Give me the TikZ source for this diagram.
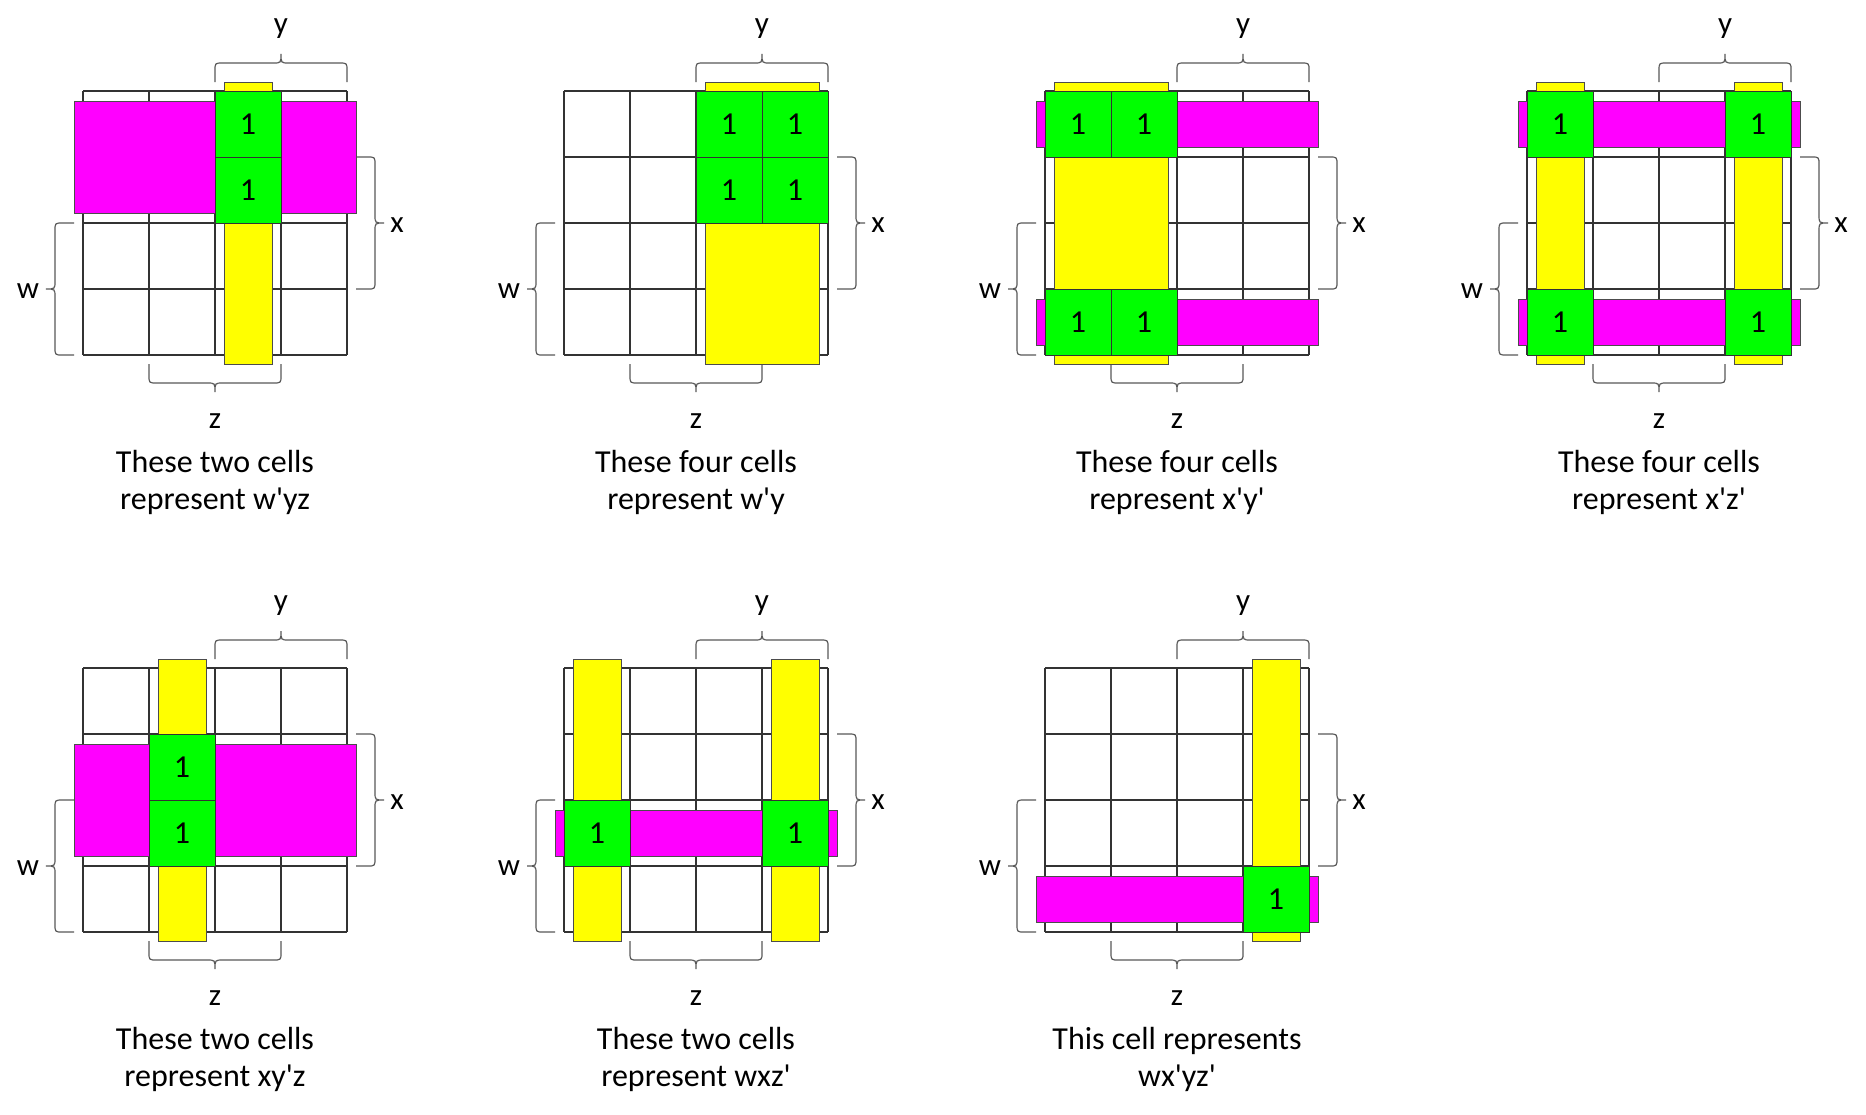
\documentclass[tikz,border=0pt]{standalone}
\usepackage{fontspec}
\setmainfont{Carlito}
\usepackage{tikz}
\definecolor{kyellow}{RGB}{255,255,0}
\definecolor{kmagenta}{RGB}{255,0,255}
\definecolor{kgreen}{RGB}{0,255,0}

\newcommand\pr{\textquotesingle}
\newcommand\hbr[5]{\draw[brc] (#1,#3) -- (#1,{#4+0.4*(#3-#4)}) .. controls (#1,#4) .. ({#1+8},#4) -- ({(#1+#2)/2-8},#4) .. controls ({(#1+#2)/2},#4) .. ({(#1+#2)/2},#5) .. controls ({(#1+#2)/2},#4) .. ({(#1+#2)/2+8},#4) -- ({#2-8},#4) .. controls (#2,#4) .. (#2,{#4+0.4*(#3-#4)}) -- (#2,#3);}
\newcommand\vbr[5]{\draw[brc] (#3,#1) -- ({#4+0.4*(#3-#4)},#1) .. controls (#4,#1) .. (#4,{#1+8}) -- (#4,{(#1+#2)/2-8}) .. controls (#4,{(#1+#2)/2}) .. (#5,{(#1+#2)/2}) .. controls (#4,{(#1+#2)/2}) .. (#4,{(#1+#2)/2+8}) -- (#4,{#2-8}) .. controls (#4,#2) .. ({#4+0.4*(#3-#4)},#2) -- (#3,#2);}
\newcommand\ycol[2]{\filldraw[ybar] ({66*#1-57},-9) rectangle ({66*#2-9},273);}
\newcommand\mrow[2]{\filldraw[mbar] (-9,{66*#1-56}) rectangle (273,{66*#2-10});}
\newcommand\one[3]{\node[onecell] (#1) at ({66*#3-33},{66*#2-33}) {1};}

\tikzset{
  pics/kmap/.style 2 args={code={
    \foreach \i in {0,66,...,264}{
      \draw[gridline] (\i,0) -- (\i,264);
      \draw[gridline] (0,\i) -- (264,\i);
    }
    \hbr{132}{264}{-9}{-28}{-37}
    \hbr{66}{198}{273}{292}{301}
    \vbr{66}{198}{273}{292}{301}
    \vbr{132}{264}{-9}{-28}{-37}
    \node[lbl] (-y) at (198,-58) {y};
    \node[lbl] (-x) at (314,141) {x};
    \node[lbl] (-w) at (-55,207) {w};
    \node[lbl] (-z) at (132,337) {z};
    \node[capline] (-c1) at (132,381) {#1};
    \node[capline] (-c2) at (132,418) {#2};
  }}
}

\begin{document}
\begin{tikzpicture}[x=0.5pt, y=-0.5pt,
  gridline/.style={draw=black!80, line width=0.6pt},
  brc/.style={draw=black!65, line width=0.6pt},
  ybar/.style={fill=kyellow, draw=black!70, line width=0.5pt},
  mbar/.style={fill=kmagenta, draw=black!70, line width=0.5pt},
  onecell/.style={draw=black!80, fill=kgreen, line width=0.5pt,
                  minimum size=33pt, inner sep=0pt, font=\fontsize{16}{19}\selectfont},
  lbl/.style={anchor=base, inner sep=0pt, font=\fontsize{15.5}{19}\selectfont},
  capline/.style={anchor=base, inner sep=0pt, font=\fontsize{16}{19}\selectfont}
]
\fill[white] (0,0) rectangle (1866,1114);
\useasboundingbox (0,0) rectangle (1866,1114);

\begin{scope}[shift={(83,91)}]
  \pic (p1) {kmap={These two cells}{represent w\pr yz}};
  \ycol{3}{3} \mrow{1}{2}
  \one{p1a}{1}{3} \one{p1b}{2}{3}
\end{scope}

\begin{scope}[shift={(564,91)}]
  \pic (p2) {kmap={These four cells}{represent w\pr y}};
  \ycol{3}{4}
  \one{p2a}{1}{3} \one{p2b}{1}{4} \one{p2c}{2}{3} \one{p2d}{2}{4}
\end{scope}

\begin{scope}[shift={(1045,91)}]
  \pic (p3) {kmap={These four cells}{represent x\pr y\pr}};
  \ycol{1}{2} \mrow{1}{1} \mrow{4}{4}
  \one{p3a}{1}{1} \one{p3b}{1}{2} \one{p3c}{4}{1} \one{p3d}{4}{2}
\end{scope}

\begin{scope}[shift={(1527,91)}]
  \pic (p4) {kmap={These four cells}{represent x\pr z\pr}};
  \ycol{1}{1} \ycol{4}{4} \mrow{1}{1} \mrow{4}{4}
  \one{p4a}{1}{1} \one{p4b}{1}{4} \one{p4c}{4}{1} \one{p4d}{4}{4}
\end{scope}

\begin{scope}[shift={(83,668)}]
  \pic (p5) {kmap={These two cells}{represent xy\pr z}};
  \ycol{2}{2} \mrow{2}{3}
  \one{p5a}{2}{2} \one{p5b}{3}{2}
\end{scope}

\begin{scope}[shift={(564,668)}]
  \pic (p6) {kmap={These two cells}{represent wxz\pr}};
  \ycol{1}{1} \ycol{4}{4} \mrow{3}{3}
  \one{p6a}{3}{1} \one{p6b}{3}{4}
\end{scope}

\begin{scope}[shift={(1045,668)}]
  \pic (p7) {kmap={This cell represents}{wx\pr yz\pr}};
  \ycol{4}{4} \mrow{4}{4}
  \one{p7a}{4}{4}
\end{scope}
\end{tikzpicture}
\end{document}
